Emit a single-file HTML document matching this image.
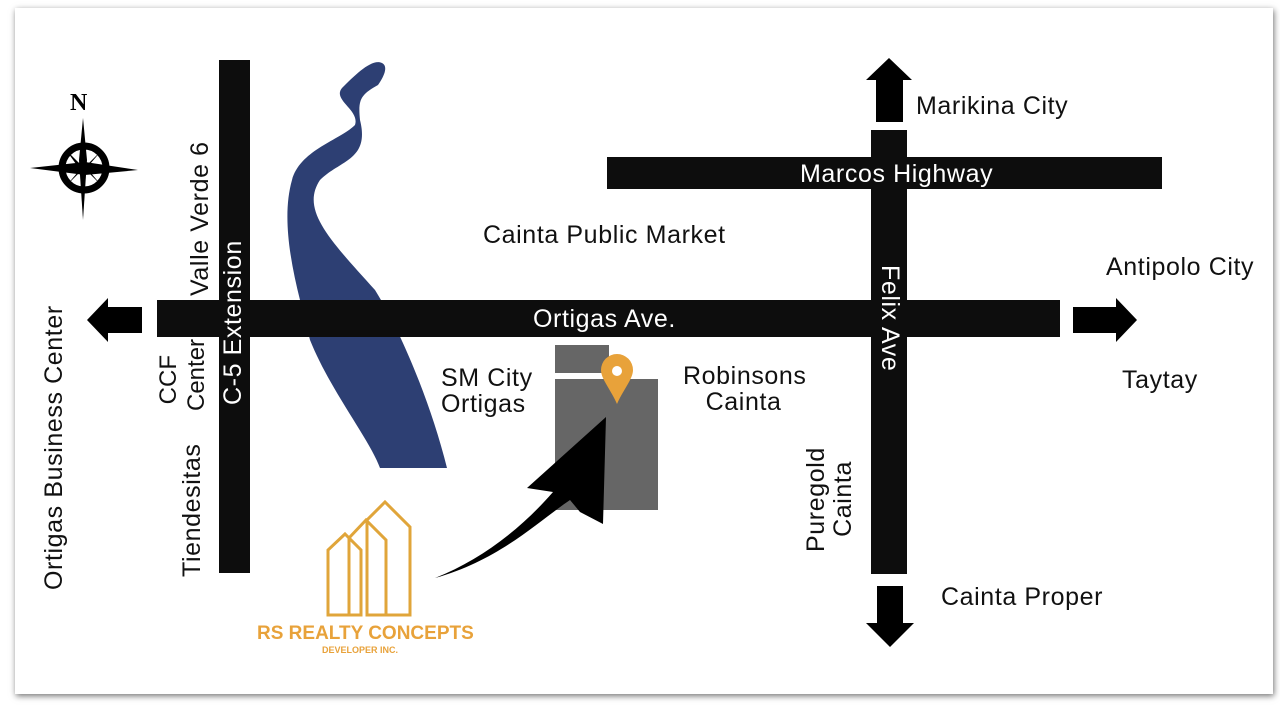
<!DOCTYPE html>
<html><head><style>
body{margin:0;background:#fff;width:1280px;height:707px;overflow:hidden;font-family:"Liberation Sans",sans-serif}
.card{position:absolute;left:15px;top:8px;width:1258px;height:686px;background:#fff;box-shadow:1px 2px 6px rgba(0,0,0,.55)}
.t{position:absolute;font-size:25px;letter-spacing:0.6px;color:#111;white-space:nowrap;line-height:1}
.r{position:absolute;background:#0d0d0d}
</style></head><body>
<div class="card"></div>
<svg width="1280" height="707" style="position:absolute;left:0;top:0">
<path d="M382,63 C372,58 355,75 342,88 C332,100 360,110 355,125 C340,140 300,150 292,180 C282,215 290,260 300,300 L310,340 C330,390 370,440 380,468 L447,468 C430,400 400,330 375,290 C330,240 300,210 320,180 C340,160 370,160 360,120 C358,100 360,95 378,85 C385,75 388,66 382,63Z" fill="#2d3f73"/>
<rect x="555" y="345" width="54" height="28" fill="#666"/>
<rect x="555" y="379" width="103" height="131" fill="#666"/>
<path d="M617,354 a16,16 0 0 1 16,16 c0,9 -10,20 -16,34 c-6,-14 -16,-25 -16,-34 a16,16 0 0 1 16,-16z" fill="#e8a23a"/>
<circle cx="617" cy="371" r="5" fill="#fff"/>
<path d="M435,578 C500,560 540,520 570,500 L580,512 L603,524 L606,417 L527,488 L553,492 C520,530 480,560 435,578Z" fill="#000"/>
<g fill="none" stroke="#e0a53a" stroke-width="3">
<path d="M328,615 L328,550 L345,534 L361,550 L361,615Z"/>
<path d="M349,615 L349,538 L366,520 L386,540 L386,615 L378,615"/>
<path d="M367,615 L367,520 L385,502 L410,527 L410,615Z"/>
</g>
<g fill="#000">
<path d="M83,118 L87,160 L83,220 L79,160Z"/>
<path d="M30,168 L85,162 L138,170 L85,175Z"/>
<circle cx="84" cy="168" r="22" fill="none" stroke="#000" stroke-width="7"/>
<path d="M84,168 L66,150 L76,164Z M84,168 L102,150 L90,164Z M84,168 L66,186 L78,172Z M84,168 L102,186 L90,172Z"/>
</g>
<text x="70" y="110" font-family="Liberation Serif" font-weight="bold" font-size="24">N</text>
<path d="M87,320 L108,298 L108,307 L142,307 L142,333 L108,333 L108,342Z"/>
<path d="M1137,320 L1116,298 L1116,307 L1073,307 L1073,333 L1116,333 L1116,342Z"/>
<path d="M889,58 L912,80 L903,80 L903,122 L876,122 L876,80 L866,80Z"/>
<path d="M890,647 L914,623 L903,623 L903,586 L877,586 L877,623 L866,623Z"/>
</svg>
<div class="r" style="left:219px;top:60px;width:31px;height:513px"></div>
<div class="r" style="left:157px;top:300px;width:903px;height:37px"></div>
<div class="r" style="left:871px;top:130px;width:36px;height:444px"></div>
<div class="r" style="left:607px;top:157px;width:555px;height:32px"></div>
<div class="t" style="left:533px;top:307px;color:#fff">Ortigas Ave.</div>
<div class="t" style="left:800px;top:162px;color:#fff">Marcos Highway</div>
<div class="t" style="left:916px;top:94px">Marikina City</div>
<div class="t" style="left:483px;top:223px">Cainta Public Market</div>
<div class="t" style="left:1106px;top:255px">Antipolo City</div>
<div class="t" style="left:1122px;top:368px">Taytay</div>
<div class="t" style="left:941px;top:585px">Cainta Proper</div>
<div class="t" style="left:441px;top:365px;line-height:26px">SM City<br>Ortigas</div>
<div class="t" style="left:683px;top:363px;line-height:26px">Robinsons<br>&nbsp;&nbsp;&nbsp;Cainta</div>
<div class="t" style="left:902px;top:265px;transform-origin:0 0;transform:rotate(90deg);color:#fff">Felix Ave</div>
<div class="t" style="left:221px;top:405px;transform-origin:0 0;transform:rotate(-90deg);color:#fff">C-5 Extension</div>
<div class="t" style="left:188px;top:296px;transform-origin:0 0;transform:rotate(-90deg)">Valle Verde 6</div>
<div class="t" style="left:155px;top:411px;transform-origin:0 0;transform:rotate(-90deg);line-height:28px;font-size:24px;letter-spacing:0">&nbsp;CCF<br>Center</div>
<div class="t" style="left:180px;top:577px;transform-origin:0 0;transform:rotate(-90deg)">Tiendesitas</div>
<div class="t" style="left:42px;top:590px;transform-origin:0 0;transform:rotate(-90deg)">Ortigas Business Center</div>
<div class="t" style="left:803px;top:552px;transform-origin:0 0;transform:rotate(-90deg);line-height:27px">Puregold<br>&nbsp;&nbsp;Cainta</div>
<div class="t" style="left:257px;top:624px;font-size:19px;letter-spacing:0;font-weight:bold;color:#e8a23a">RS REALTY CONCEPTS</div>
<div class="t" style="left:322px;top:646px;font-size:9px;letter-spacing:0;font-weight:bold;color:#e8a23a">DEVELOPER INC.</div>
</body></html>
